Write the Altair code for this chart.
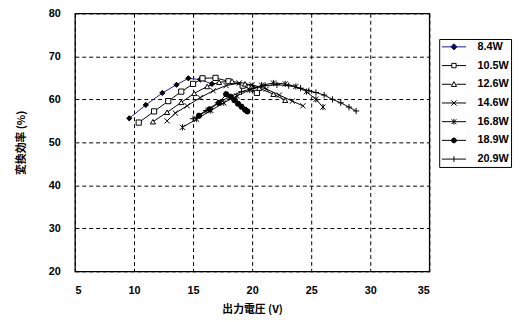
import altair as alt
import pandas as pd

series_names = ["8.4W", "10.5W", "12.6W", "14.6W", "16.8W", "18.9W", "20.9W"]

x_84 = [9.6, 11.0, 12.4, 13.6, 14.6, 15.6, 16.6]
y_84 = [55.6, 58.7, 61.5, 63.4, 64.9, 64.6, 63.6]

x_105 = [10.4, 11.7, 12.9, 14.0, 15.0, 15.8, 16.9, 18.0, 19.2, 20.4]
y_105 = [54.6, 57.2, 59.6, 61.8, 63.6, 64.9, 65.0, 64.2, 63.2, 61.5]

x_126 = [11.6, 12.8, 14.0, 15.1, 16.2, 17.2, 18.3, 19.4, 20.6, 21.8, 22.8]
y_126 = [54.8, 57.0, 59.3, 61.4, 63.0, 64.0, 64.2, 63.6, 62.6, 61.2, 59.8]

x_146 = [12.8, 13.5, 14.5, 15.6, 16.7, 17.8, 18.9, 20.0, 21.2, 22.3, 23.4, 24.3]
y_146 = [55.0, 56.8, 58.5, 60.4, 62.0, 63.2, 63.8, 63.4, 62.4, 61.0, 59.6, 58.5]

x_168 = [14.1, 15.3, 16.5, 17.6, 18.7, 19.8, 20.8, 21.8, 22.8, 23.7, 24.6, 25.4, 26.0]
y_168 = [53.5, 55.4, 57.4, 59.2, 60.8, 62.2, 63.3, 63.8, 63.6, 63.0, 61.8, 60.0, 58.2]

x_189 = [15.5, 16.4, 17.2, 17.8, 18.2, 18.5, 18.8, 19.1, 19.4, 19.6]
y_189 = [56.2, 57.7, 59.2, 61.2, 60.6, 59.8, 59.0, 58.3, 57.6, 57.2]

x_209 = [15.0, 16.1, 17.1, 18.1, 19.1, 20.1, 21.1, 22.1, 23.1, 24.1, 24.8, 25.4, 26.1, 26.8, 27.5, 28.2, 28.8]
y_209 = [55.5, 57.4, 59.2, 60.6, 61.8, 62.6, 63.2, 63.4, 63.2, 62.6, 62.0, 61.6, 61.0, 60.0, 59.2, 58.2, 57.3]

x_ticks = [5, 10, 15, 20, 25, 30, 35]
y_ticks = [20, 30, 40, 50, 60, 70, 80]

all_x = [x_84, x_105, x_126, x_146, x_168, x_189, x_209]
all_y = [y_84, y_105, y_126, y_146, y_168, y_189, y_209]

rows = []
for name, xs, ys in zip(series_names, all_x, all_y):
    for i, (xv, yv) in enumerate(zip(xs, ys)):
        rows.append({"series": name, "v": xv, "eff": yv, "idx": i})
df = pd.DataFrame(rows)

line_colors = ["#1c1ca8", "black", "black", "black", "black", "black", "black"]
plot_shapes = [
    "diamond",
    "square",
    "triangle-up",
    "M-1,-1L1,1M1,-1L-1,1",
    "M-1,-1L1,1M1,-1L-1,1M0,-1.2L0,1.2",
    "circle",
    "M-1.2,0L1.2,0M0,-1.2L0,1.2",
]
fills = ["black", "white", "white", "white", "white", "black", "white"]

legend_shapes = [
    "M-1,0L1,0M0,-0.26L0.26,0L0,0.26L-0.26,0Z",
    "M-1,0L-0.18,0M0.18,0L1,0M-0.18,-0.18L0.18,-0.18L0.18,0.18L-0.18,0.18Z",
    "M-1,0L-0.2,0M0.2,0L1,0M0,-0.22L0.22,0.18L-0.22,0.18Z",
    "M-1,0L1,0M-0.22,-0.22L0.22,0.22M0.22,-0.22L-0.22,0.22",
    "M-1,0L1,0M-0.2,-0.2L0.2,0.2M0.2,-0.2L-0.2,0.2M0,-0.24L0,0.24",
    "M-1,0L1,0M0.2,0A0.2,0.2,0,1,1,-0.2,0A0.2,0.2,0,1,1,0.2,0Z",
    "M-1,0L1,0M0,-0.24L0,0.24",
]
legend_strokes = ["#1c1ca8", "black", "black", "black", "black", "black", "black"]

xenc = alt.X("v:Q", scale=alt.Scale(domain=[5, 35], nice=False),
             axis=alt.Axis(values=x_ticks, title="出力電圧 (V)", titleY=39,
                           titleBaseline="middle", labelPadding=14))
yenc = alt.Y("eff:Q", scale=alt.Scale(domain=[20, 80], nice=False),
             axis=alt.Axis(values=y_ticks, title="変換効率 (%)", titleX=-54,
                           titleBaseline="middle", labelPadding=15))

base = alt.Chart(df)

lines = base.mark_line(strokeWidth=1).encode(
    x=xenc, y=yenc,
    color=alt.Color("series:N", scale=alt.Scale(domain=series_names, range=line_colors), legend=None),
    detail="series:N",
    order="idx:Q",
)

points = base.mark_point(stroke="black", strokeWidth=1, opacity=1, size=28).encode(
    x=xenc, y=yenc,
    shape=alt.Shape("series:N", scale=alt.Scale(domain=series_names, range=plot_shapes), legend=None),
    fill=alt.Fill("series:N", scale=alt.Scale(domain=series_names, range=fills), legend=None),
)

leg = alt.Legend(
    orient="none", legendX=370, legendY=26, title=None,
    strokeColor="black", fillColor="white", padding=2,
    symbolSize=600, symbolStrokeWidth=1, clipHeight=12, rowPadding=7,
    labelFont="Liberation Sans", labelFontSize=11, labelFontWeight="bold",
    labelColor="black", labelOffset=11,
)

legend_layer = base.transform_filter("false").mark_point(opacity=1, strokeWidth=1).encode(
    x=xenc, y=yenc,
    shape=alt.Shape("series:N", scale=alt.Scale(domain=series_names, range=legend_shapes), legend=leg),
    fill=alt.Fill("series:N", scale=alt.Scale(domain=series_names, range=fills), legend=leg),
    stroke=alt.Stroke("series:N", scale=alt.Scale(domain=series_names, range=legend_strokes), legend=leg),
)

chart = alt.layer(lines, points, legend_layer).resolve_scale(
    color="independent", shape="independent", fill="independent", stroke="independent"
).properties(
    width=360, height=262,
    autosize=alt.AutoSizeParams(type="none"),
    padding={"left": 68, "top": 3, "right": 86, "bottom": 49},
).configure_view(
    stroke="black", strokeWidth=1.3
).configure_axis(
    grid=True, gridColor="black", gridDash=[4, 3], gridWidth=1,
    ticks=False, tickSize=0, domain=False,
    labelFont="Liberation Sans", labelFontSize=11, labelFontWeight="bold", labelColor="black",
    titleFont="Noto Sans CJK JP", titleFontSize=11, titleFontWeight="bold", titleColor="black",
)

chart.save("out.html", embed_options={"renderer": "svg", "actions": False})
